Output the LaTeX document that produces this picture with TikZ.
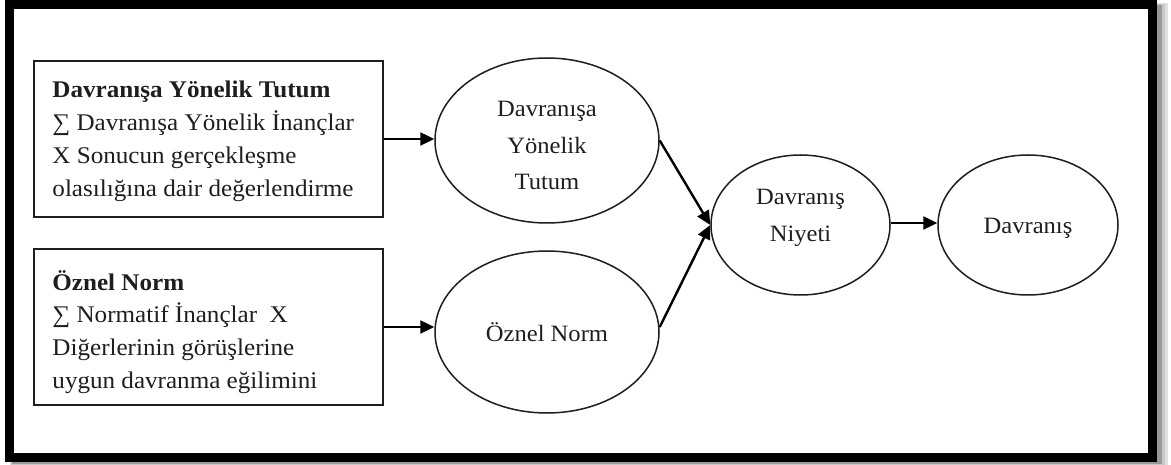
\documentclass[tikz,border=0pt]{standalone}
\usepackage{fontspec}
\setmainfont[FakeStretch=1.05]{Liberation Serif}
\usetikzlibrary{arrows.meta,shapes.geometric}
\definecolor{ink}{HTML}{1E1E1E}
\begin{document}
\begin{tikzpicture}[x=1bp,y=-1bp,
  boxstyle/.style={draw=ink,line width=1.5bp,rectangle,minimum width=349bp,minimum height=156bp,inner sep=0pt,fill=white},
  boxtext/.style={anchor=west,align=left,inner sep=0pt,text=ink,font=\fontsize{24}{33}\selectfont},
  ell/.style={draw=ink,line width=1.5bp,ellipse,inner sep=0pt,fill=white},
  elltext/.style={inner sep=0pt,text=ink,align=center,font=\fontsize{23.5}{37}\selectfont},
  conn/.style={draw=black,line width=2.4bp,-{Triangle[length=14bp,width=13bp]}}]
\useasboundingbox (0,0) rectangle (1171,465);
% shadow
\fill[black!12] (10,3) rectangle (1168,466);
\fill[black!22] (11,4) rectangle (1165,465);
\fill[black!40] (12,5) rectangle (1162,464);
% frame
\draw[line width=9bp,fill=white] (9.5,4.5) rectangle (1152,457.5);
% boxes
\node[boxstyle] (box1) at (208.5,139) {};
\node[boxtext] (box1t) at ([xshift=19bp,yshift=-2bp]box1.west) {\textbf{Davranışa Yönelik Tutum}\\∑ Davranışa Yönelik İnançlar\\X Sonucun gerçekleşme\\olasılığına dair değerlendirme};
\node[boxstyle] (box2) at (208.5,327) {};
\node[boxtext] (box2t) at ([xshift=19bp,yshift=-5bp]box2.west) {\textbf{Öznel Norm}\\∑ Normatif İnançlar\ \ X\\Diğerlerinin görüşlerine\\uygun davranma eğilimini};
% ellipses
\node[ell,minimum width=224bp,minimum height=165bp] (e1) at (547,140.5) {};
\node[elltext,yshift=-5bp] (e1t) at (e1.center) {Davranışa\\Yönelik\\Tutum};
\node[ell,minimum width=224bp,minimum height=162bp] (e2) at (547,332) {};
\node[elltext] (e2t) at (e2.center) {Öznel Norm};
\node[ell,minimum width=179bp,minimum height=140bp] (e3) at (800.5,225) {};
\node[elltext,yshift=7bp] (e3t) at (e3.center) {Davranış\\Niyeti};
\node[ell,minimum width=180bp,minimum height=140bp] (e4) at (1028,225) {};
\node[elltext,yshift=-3bp] (e4t) at (e4.center) {Davranış};
% connectors
\draw[conn] (box1.east) -- (box1.east -| e1.west);
\draw[conn] (box2.east) -- (box2.east -| e2.west);
\draw[conn] (e1.east) -- (e3.west);
\draw[conn] ([yshift=5bp]e2.east) -- (e3.west);
\draw[conn] ([yshift=2bp]e3.east) -- ([yshift=2bp]e4.west);
\end{tikzpicture}
\end{document}
